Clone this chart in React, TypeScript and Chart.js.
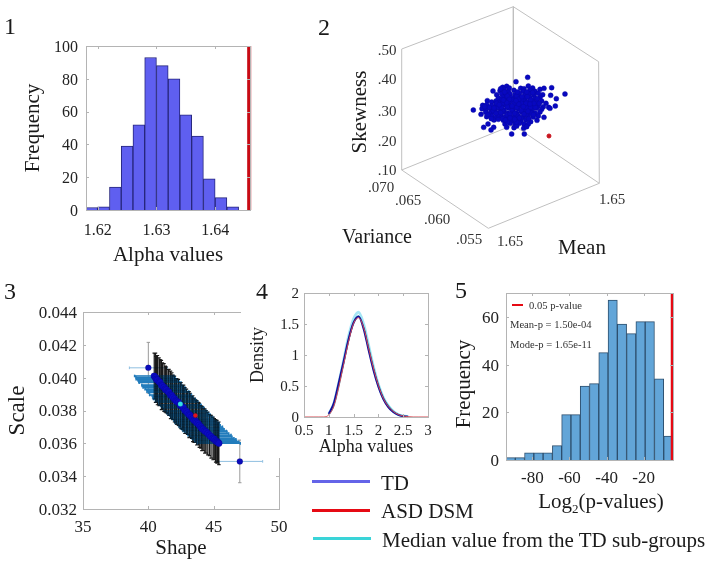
import React, { useEffect, useRef } from "react";
import { Chart, registerables } from "chart.js";

Chart.register(...registerables);

const SERIF = "'Liberation Serif', 'Times New Roman', serif";
const W = 714;
const H = 565;

// Panel 1: alpha histogram
const alphaBins = [1.619, 1.621, 1.623, 1.625, 1.627, 1.629, 1.631, 1.633, 1.635, 1.637, 1.639, 1.641, 1.643];
const alphaFreq = [1.5, 2, 14, 39, 52, 93, 88, 80, 58, 45, 19, 7.5, 2];
const alphaAsd = 1.6458;
const alphaTicks = [1.62, 1.63, 1.64];
const alphaFreqTicks = [0, 20, 40, 60, 80, 100];

// Panel 2: view-plane coordinates of the 3-D cube and point cloud
const cubeU = [275, 275, 610, 866, 868, 535, 275, NaN, 610, 610, NaN, 275, 610, 868];
const cubeV = [510, 147, 20, 185, 550, 685, 510, NaN, 20, 375, NaN, 510, 375, 550];
const cloud: [number, number][] = [
  [653, 232], [618, 245], [765, 282], [725, 263],
  [578, 262], [590, 259], [632, 265], [642, 266], [655, 258], [668, 264],
  [570, 272], [582, 268], [595, 274], [612, 271], [640, 274], [660, 270], [675, 274], [690, 268], [702, 265],
  [560, 284], [575, 281], [588, 285], [600, 282], [615, 284], [628, 280], [645, 284], [658, 282], [672, 285], [685, 280], [698, 284], [722, 286],
  [549, 273], [565, 294], [578, 292], [590, 296], [605, 293], [618, 295], [630, 292], [645, 296], [660, 293], [675, 295], [690, 292], [739, 296],
  [532, 302], [545, 306], [558, 303], [570, 306], [585, 304], [598, 307], [612, 304], [625, 306], [640, 303], [652, 306], [668, 304], [682, 307], [695, 303], [708, 310],
  [518, 316], [530, 314], [545, 318], [558, 315], [572, 317], [585, 314], [600, 318], [615, 315], [628, 317], [642, 314], [655, 318], [670, 315], [685, 317], [700, 320], [716, 322], [736, 318],
  [490, 330], [516, 326], [528, 329], [542, 326], [556, 329], [570, 326], [583, 329], [597, 325], [610, 328], [625, 326], [640, 329], [652, 326], [667, 329], [680, 325], [695, 328], [720, 325],
  [513, 343], [527, 337], [540, 340], [552, 337], [566, 340], [580, 337], [593, 340], [608, 336], [620, 339], [635, 337], [648, 340], [662, 337], [676, 340], [690, 336],
  [530, 350], [545, 349], [558, 352], [572, 348], [585, 351], [598, 348], [612, 351], [625, 348], [640, 351], [655, 348], [670, 351], [685, 348], [702, 352],
  [552, 360], [565, 358], [580, 361], [592, 359], [606, 362], [620, 359], [633, 362], [648, 359], [662, 365], [681, 361],
  [534, 372], [585, 372], [600, 370], [615, 373], [628, 370], [642, 372], [655, 372],
  [521, 382], [551, 382], [543, 390], [590, 382], [612, 383], [620, 378], [641, 385], [650, 380],
  [605, 402], [643, 402],
  [592, 288], [606, 300], [620, 288], [634, 300], [578, 310], [592, 320], [606, 332], [620, 322], [634, 310], [648, 322], [564, 322], [578, 332], [592, 344], [606, 356], [620, 344], [634, 332], [648, 344], [662, 322],
  [550, 332], [564, 344], [578, 356], [592, 366], [620, 366], [634, 354], [648, 310], [662, 300], [676, 322], [664, 340],
  [584, 276], [598, 264], [576, 298], [598, 298], [612, 310], [626, 298], [652, 290], [668, 278], [682, 296], [688, 310], [560, 310], [538, 322], [524, 320], [534, 344], [544, 356], [558, 340],
  [572, 338], [586, 360], [600, 342], [614, 340], [628, 354], [642, 342], [656, 356], [670, 344], [614, 358], [600, 354], [626, 312], [606, 318], [590, 308], [574, 322], [640, 320], [654, 334],
  [572, 266], [580, 300], [568, 314], [552, 324], [622, 276], [650, 276], [618, 302], [636, 290], [672, 310], [660, 312],
];
const asdPoint: [number, number] = [717, 408];

// Panel 3: shape / scale estimates with error bars
const shapeVals = [40.45, 40.55, 40.62, 40.7, 40.82, 40.9, 41.0, 41.08, 41.2, 41.3, 41.38, 41.5, 41.58, 41.7, 41.8, 41.88, 42.0, 42.1, 42.18, 42.3, 42.42, 42.5, 42.62, 42.7, 42.8, 42.92, 43.0, 43.12, 43.2, 43.32, 43.4, 43.5, 43.62, 43.7, 43.82, 43.9, 44.02, 44.1, 44.2, 44.32, 44.42, 44.55, 44.68, 44.8, 44.95, 45.05, 45.15, 45.25, 45.33, 45.4];
const scaleVals = [.0401, .04, .0399, .03985, .03975, .0397, .03955, .0395, .0394, .0393, .03925, .03915, .0391, .03895, .0389, .0388, .0387, .0386, .03855, .0385, .03835, .0383, .0382, .03815, .038, .03795, .03785, .03775, .0377, .0376, .0375, .0374, .03735, .03725, .0372, .0371, .037, .0369, .03685, .03675, .0367, .0366, .0365, .0364, .0363, .03625, .03615, .0361, .03605, .036];
const shapeErrs = [1.5, 1.5, 1.55, 1.5, 1.55, 1.6, 1.5, 1.55, 1.6, 1.55, 1.5, 1.6, 1.55, 1.6, 1.5, 1.55, 1.6, 1.55, 1.6, 1.5, 1.6, 1.55, 1.6, 1.55, 1.6, 1.55, 1.6, 1.6, 1.55, 1.6, 1.6, 1.55, 1.6, 1.65, 1.6, 1.6, 1.65, 1.6, 1.6, 1.65, 1.6, 1.6, 1.65, 1.6, 1.6, 1.65, 1.6, 1.65, 1.6, 1.65];
const scaleErrs = [.0014, .0015, .0014, .0015, .00145, .0014, .0015, .0014, .00145, .0014, .0014, .00135, .0014, .00145, .0014, .00135, .0014, .00135, .0014, .0014, .00135, .0014, .00135, .0014, .0014, .00135, .0013, .0014, .00135, .0013, .0014, .00135, .0013, .00135, .0013, .00135, .0013, .00135, .0013, .00135, .0013, .0013, .00125, .0013, .0013, .00125, .0013, .0013, .00125, .0013];
const outlierShape = [40.0, 47.0];
const outlierScale = [.0406, .0349];
const outlierShapeErr = [1.45, 1.75];
const outlierScaleErr = [.00155, .0013];
const medianPoint = { x: 42.45, y: .0384 };
const asdShapeScale = { x: 43.6, y: .0377 };
const shapeTicks = [35, 40, 45, 50];
const scaleTicks = [.032, .034, .036, .038, .04, .042, .044];
const scaleLabels = ["0.032", "0.034", "0.036", "0.038", "0.040", "0.042", "0.044"];

// Panel 4: density curves
const densityX = [.5, .6, .7, .8, .9, 1, 1.1, 1.2, 1.3, 1.4, 1.5, 1.6, 1.7, 1.8, 1.9, 2, 2.1, 2.2, 2.3, 2.4, 2.5, 2.6, 2.7, 2.8, 2.9, 3];
const densityUpper = [0, 0, 0, 0, 0, .05, .21, .54, .91, 1.3, 1.58, 1.69, 1.5, 1.16, .81, .52, .31, .18, .09, .04, .016, .005, 0, 0, 0, 0];
const densityTd = [0, 0, 0, 0, 0, .05, .22, .55, .9, 1.26, 1.52, 1.62, 1.43, 1.09, .76, .49, .29, .16, .08, .035, .013, .004, 0, 0, 0, 0];
const densityAsd = [0, 0, 0, 0, 0, .035, .17, .48, .85, 1.22, 1.51, 1.6, 1.45, 1.12, .79, .51, .3, .17, .09, .04, .015, .005, 0, 0, 0, 0];
const densityMedian = [0, 0, 0, 0, 0, .04, .19, .51, .88, 1.25, 1.53, 1.63, 1.46, 1.14, .8, .52, .31, .18, .09, .04, .016, .005, 0, 0, 0, 0];
const densityXTicks = [.5, 1, 1.5, 2, 2.5, 3];
const densityYTicks = [0, .5, 1, 1.5, 2];

// Panel 5: p-value histogram
const logBins = [-91.7, -86.7, -81.7, -76.7, -71.7, -66.7, -61.7, -56.7, -51.7, -46.7, -41.7, -36.7, -31.7, -26.7, -21.7, -16.7, -11.7, -6.7];
const logFreq = [1, 1, 3, 3, 3, 6, 19, 19, 31, 32, 45, 67, 57, 53, 58, 58, 34, 10];
const pThreshold = -4.6;
const logTicks = [-80, -60, -40, -20];
const logFreqTicks = [0, 20, 40, 60];

const frame = {
  id: "frame",
  afterDatasetsDraw(chart: any) {
    const { left, right, top, bottom } = chart.chartArea;
    const ctx = chart.ctx;
    ctx.save();
    ctx.strokeStyle = "#b4b4b4";
    ctx.lineWidth = 1;
    ctx.strokeRect(Math.round(left) + .5, Math.round(top) + .5, Math.round(right - left), Math.round(bottom - top));
    ctx.beginPath();
    for (const t of chart.scales.x.ticks) {
      const x = Math.round(chart.scales.x.getPixelForValue(t.value)) + .5;
      ctx.moveTo(x, bottom); ctx.lineTo(x, bottom - 3);
      ctx.moveTo(x, top); ctx.lineTo(x, top + 3);
    }
    for (const t of chart.scales.y.ticks) {
      const y = Math.round(chart.scales.y.getPixelForValue(t.value)) + .5;
      ctx.moveTo(left, y); ctx.lineTo(left + 3, y);
      ctx.moveTo(right, y); ctx.lineTo(right - 3, y);
    }
    ctx.stroke();
    ctx.restore();
  },
};

function axis(o: {
  min: number; max: number; ticks: number[]; labels?: string[]; size: number; pad: number; thickness: number;
  horizontal: boolean; title?: string; titleSize?: number; titleCentre?: number;
}) {
  const titleLh = (o.titleSize || 0) * 1.2;
  return {
    type: "linear",
    min: o.min,
    max: o.max,
    offset: false,
    grid: { display: false, drawTicks: false, offset: false },
    border: { display: false },
    afterBuildTicks: (s: any) => { s.ticks = o.ticks.map((value) => ({ value })); },
    afterFit: (s: any) => { if (o.horizontal) s.height = o.thickness; else s.width = o.thickness; },
    ticks: {
      autoSkip: false, maxRotation: 0, minRotation: 0, padding: o.pad, color: "#222",
      labelOffset: o.horizontal ? 0 : 1.5,
      font: { family: SERIF, size: o.size },
      callback: (v: number, i: number) => (o.labels ? o.labels[i] : String(v)),
    },
    title: o.title
      ? {
          display: true, text: o.title, color: "#1a1a1a",
          font: { family: SERIF, size: o.titleSize },
          padding: o.horizontal
            ? { top: 0, bottom: H - (o.titleCentre as number) - titleLh / 2 }
            : { top: (o.titleCentre as number) - titleLh / 2, bottom: 0 },
        }
      : { display: false },
  };
}

const base = (area: { l: number; r: number; t: number; b: number }, axes: boolean) => ({
  responsive: false,
  animation: false,
  events: [],
  layout: {
    padding: axes
      ? { left: 0, bottom: 0, top: area.t, right: W - area.r }
      : { left: area.l, bottom: H - area.b, top: area.t, right: W - area.r },
  },
  plugins: { legend: { display: false }, tooltip: { enabled: false } },
});

const pts = (xs: number[], ys: number[]) => xs.map((x, i) => ({ x, y: ys[i] }));

function errorPaths(xs: number[], ys: number[], xe: number[], ye: number[]) {
  const capX = .13;
  const capY = .00008;
  const gap = { x: NaN, y: NaN };
  const h: any[] = [];
  const v: any[] = [];
  xs.forEach((x, i) => {
    h.push({ x: x - xe[i], y: ys[i] }, { x: x + xe[i], y: ys[i] }, gap);
    v.push({ x, y: ys[i] - ye[i] }, { x, y: ys[i] + ye[i] }, gap);
    v.push({ x: x - capX, y: ys[i] + ye[i] }, { x: x + capX, y: ys[i] + ye[i] }, gap);
    v.push({ x: x - capX, y: ys[i] - ye[i] }, { x: x + capX, y: ys[i] - ye[i] }, gap);
    h.push({ x: x - xe[i], y: ys[i] - capY }, { x: x - xe[i], y: ys[i] + capY }, gap);
    h.push({ x: x + xe[i], y: ys[i] - capY }, { x: x + xe[i], y: ys[i] + capY }, gap);
  });
  return { h, v };
}

function T(p: { x: number; y: number; size: number; rot?: number; color?: string; left?: boolean; children: React.ReactNode }) {
  return (
    <div
      style={{
        position: "absolute", left: p.x, top: p.y, fontFamily: SERIF, fontSize: p.size, lineHeight: 1,
        color: p.color || "#1a1a1a", whiteSpace: "nowrap",
        transform: `translate(${p.left ? "0" : "-50%"},-50%)${p.rot ? ` rotate(${p.rot}deg)` : ""}`,
      }}
    >
      {p.children}
    </div>
  );
}

function Bar(p: { x: number; y: number; w: number; h: number; c: string }) {
  return <div style={{ position: "absolute", left: p.x, top: p.y, width: p.w, height: p.h, background: p.c }} />;
}

export default function App() {
  const c1 = useRef<HTMLCanvasElement>(null);
  const c2 = useRef<HTMLCanvasElement>(null);
  const c3 = useRef<HTMLCanvasElement>(null);
  const c4 = useRef<HTMLCanvasElement>(null);
  const c5 = useRef<HTMLCanvasElement>(null);

  useEffect(() => {
    document.body.style.margin = "0";
    const charts: Chart[] = [];

    const a1 = { l: 86, r: 250, t: 46, b: 210 };
    charts.push(new Chart(c1.current as any, {
      type: "bar",
      data: {
        datasets: [
          { type: "line", data: [{ x: alphaAsd, y: 0 }, { x: alphaAsd, y: 100 }], borderColor: "#c80a14", borderWidth: 4, pointRadius: 0, order: 0, clip: false },
          { data: pts(alphaBins, alphaFreq), backgroundColor: "#5f5ff0", borderColor: "#26267c", borderWidth: 1, barPercentage: 1, categoryPercentage: 1, order: 1 },
        ],
      },
      options: {
        ...base(a1, true),
        scales: {
          x: axis({ min: 1.618, max: 1.64594, ticks: alphaTicks, labels: ["1.62", "1.63", "1.64"], size: 16, pad: 11, thickness: H - a1.b, horizontal: true, title: "Alpha values", titleSize: 21, titleCentre: 255 }),
          y: axis({ min: 0, max: 100, ticks: alphaFreqTicks, size: 16, pad: 8, thickness: a1.l, horizontal: false, title: "Frequency", titleSize: 21, titleCentre: 33 }),
        },
      } as any,
      plugins: [frame],
    } as any));

    const a2 = { l: 401.7, r: 599.3, t: 6.7, b: 228.3 };
    charts.push(new Chart(c2.current as any, {
      type: "scatter",
      data: {
        datasets: [
          { data: [{ x: asdPoint[0], y: asdPoint[1] }], backgroundColor: "#c8141e", borderColor: "#c8141e", pointRadius: 2, order: 0 },
          { data: cloud.map(([x, y]) => ({ x, y })), backgroundColor: "#0808c0", borderColor: "#0808a0", borderWidth: .4, pointRadius: 2.5, order: 1 },
          { data: pts(cubeU, cubeV), showLine: true, spanGaps: false, borderColor: "#c0c0c0", borderWidth: 1, pointRadius: 0, order: 2, clip: false },
        ],
      },
      options: {
        ...base(a2, false),
        scales: {
          x: { type: "linear", display: false, min: 275, max: 868 },
          y: { type: "linear", display: false, min: 20, max: 685, reverse: true },
        },
      } as any,
    } as any));

    const a3 = { l: 83, r: 279, t: 312, b: 509 };
    const main = errorPaths(shapeVals, scaleVals, shapeErrs, scaleErrs);
    const out = errorPaths(outlierShape, outlierScale, outlierShapeErr, outlierScaleErr);
    charts.push(new Chart(c3.current as any, {
      type: "scatter",
      data: {
        datasets: [
          { data: [asdShapeScale], backgroundColor: "#e0141e", pointRadius: 2.3, order: 0 },
          { data: [medianPoint], backgroundColor: "#35e0e8", pointRadius: 2.5, order: 1 },
          { data: pts(shapeVals, scaleVals), backgroundColor: "#0b0bc4", pointRadius: 3.4, order: 2 },
          { data: pts(outlierShape, outlierScale), backgroundColor: "#0b0bbb", pointRadius: 3, order: 3 },
          { data: main.h, showLine: true, spanGaps: false, borderColor: "rgba(15,110,180,.28)", borderWidth: 1.4, pointRadius: 0, order: 4 },
          { data: main.v, showLine: true, spanGaps: false, borderColor: "rgba(0,0,0,.9)", borderWidth: 1.2, pointRadius: 0, order: 5 },
          { data: main.h, showLine: true, spanGaps: false, borderColor: "#2a82c0", borderWidth: 1.5, pointRadius: 0, order: 6 },
          { data: out.v, showLine: true, spanGaps: false, borderColor: "#9a9a9a", borderWidth: 1, pointRadius: 0, order: 7 },
          { data: out.h, showLine: true, spanGaps: false, borderColor: "#8fbfe0", borderWidth: 1, pointRadius: 0, order: 8 },
        ],
      },
      options: {
        ...base(a3, true),
        scales: {
          x: axis({ min: 35, max: 50, ticks: shapeTicks, size: 17, pad: 8, thickness: H - a3.b, horizontal: true, title: "Shape", titleSize: 21, titleCentre: 548 }),
          y: axis({ min: .032, max: .044, ticks: scaleTicks, labels: scaleLabels, size: 17, pad: 6, thickness: a3.l, horizontal: false, title: "Scale", titleSize: 23, titleCentre: 18 }),
        },
      } as any,
      plugins: [frame],
    } as any));

    const a4 = { l: 304, r: 428, t: 293, b: 417 };
    const curve = (ys: number[], color: string, width: number, order: number, full: boolean) => ({
      data: pts(densityX, ys).filter((p) => full || p.y > 0), showLine: true, borderColor: color, borderWidth: width, pointRadius: 0, cubicInterpolationMode: "monotone", order, clip: false,
    });
    charts.push(new Chart(c4.current as any, {
      type: "scatter",
      data: {
        datasets: [
          curve(densityAsd, "#d84a52", 1, 0, true),
          curve(densityTd, "#12109a", 2, 1, false),
          curve(densityMedian, "#55c0c8", 1.6, 2, false),
          curve(densityUpper, "#a6e6f5", 3, 3, false),
        ],
      },
      options: {
        ...base(a4, true),
        scales: {
          x: axis({ min: .5, max: 3, ticks: densityXTicks, size: 15, pad: 5, thickness: H - a4.b, horizontal: true, title: "Alpha values", titleSize: 18, titleCentre: 447 }),
          y: axis({ min: 0, max: 2, ticks: densityYTicks, size: 15, pad: 5, thickness: a4.l, horizontal: false, title: "Density", titleSize: 18, titleCentre: 258 }),
        },
      } as any,
      plugins: [frame],
    } as any));

    const a5 = { l: 506, r: 673, t: 293, b: 460 };
    charts.push(new Chart(c5.current as any, {
      type: "bar",
      data: {
        datasets: [
          { type: "line", data: [{ x: pThreshold, y: 0 }, { x: pThreshold, y: 70 }], borderColor: "#e60a14", borderWidth: 3, pointRadius: 0, order: 0, clip: false },
          { data: pts(logBins, logFreq), backgroundColor: "#62a5d8", borderColor: "#2d4f6e", borderWidth: 1, barPercentage: 1, categoryPercentage: 1, order: 1 },
        ],
      },
      options: {
        ...base(a5, true),
        scales: {
          x: axis({ min: -94.2, max: -4.2, ticks: logTicks, size: 17, pad: 8, thickness: H - a5.b, horizontal: true }),
          y: axis({ min: 0, max: 70, ticks: logFreqTicks, size: 17, pad: 7, thickness: a5.l, horizontal: false }),
        },
      } as any,
      plugins: [frame],
    } as any));

    return () => charts.forEach((c) => c.destroy());
  }, []);

  const cv: React.CSSProperties = { position: "absolute", left: 0, top: 0 };
  return (
    <div style={{ position: "absolute", left: 0, top: 0, width: W, height: H, overflow: "hidden", background: "#fff" }}>
      <canvas ref={c1} width={W} height={H} style={cv} />
      <canvas ref={c2} width={W} height={H} style={cv} />
      <canvas ref={c3} width={W} height={H} style={cv} />
      <Bar x={241} y={300} w={60} h={158} c="#fff" />
      <canvas ref={c4} width={W} height={H} style={cv} />
      <canvas ref={c5} width={W} height={H} style={cv} />

      <T x={10} y={26} size={24}>1</T>
      <T x={324} y={27} size={24}>2</T>
      <T x={10} y={291} size={24}>3</T>
      <T x={262} y={291} size={24}>4</T>
      <T x={461} y={290} size={24}>5</T>

      <T x={387} y={50} size={15} color="#333">.50</T>
      <T x={387} y={79} size={15} color="#333">.40</T>
      <T x={387} y={111} size={15} color="#333">.30</T>
      <T x={387} y={141} size={15} color="#333">.20</T>
      <T x={387} y={170} size={15} color="#333">.10</T>
      <T x={381} y={187} size={15} color="#333">.070</T>
      <T x={408} y={200} size={15} color="#333">.065</T>
      <T x={437} y={219} size={15} color="#333">.060</T>
      <T x={469} y={239} size={15} color="#333">.055</T>
      <T x={510} y={241} size={15} color="#333">1.65</T>
      <T x={612} y={199} size={15} color="#333">1.65</T>
      <T x={377} y={236} size={20}>Variance</T>
      <T x={582} y={247} size={21}>Mean</T>
      <T x={359} y={112} size={21} rot={-90}>Skewness</T>

      <T x={463} y={384} size={21} rot={-90}>Frequency</T>
      <T x={601} y={501} size={21}>Log<sub style={{ fontSize: 13, lineHeight: 0 }}>2</sub>(p-values)</T>
      <Bar x={512} y={304} w={11} h={1.5} c="#e60a14" />
      <T x={529} y={306} size={10.6} color="#333" left>0.05 p-value</T>
      <T x={510} y={325} size={10.6} color="#333" left>Mean-p = 1.50e-04</T>
      <T x={510} y={345} size={10.6} color="#333" left>Mode-p = 1.65e-11</T>

      <Bar x={312} y={479.5} w={58} h={3} c="#6464e8" />
      <Bar x={312} y={508.5} w={58} h={3} c="#e60a14" />
      <Bar x={313} y={537} w={58} h={3} c="#3ad4d8" />
      <T x={381} y={483} size={21} left>TD</T>
      <T x={381} y={511} size={21} left>ASD DSM</T>
      <T x={382} y={540} size={21} left>Median value from the TD sub-groups</T>
    </div>
  );
}
